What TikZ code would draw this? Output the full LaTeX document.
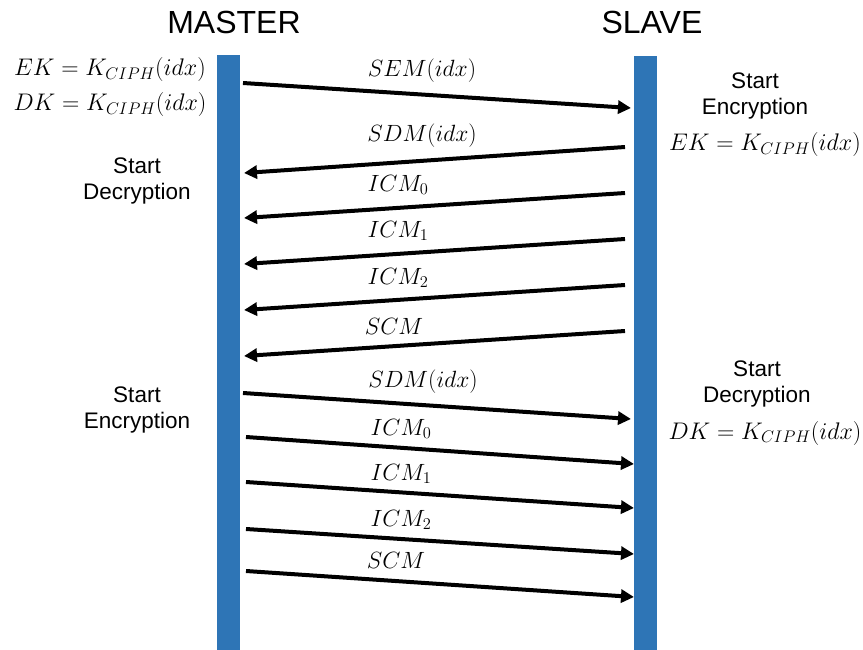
\RequirePackage{fix-cm}
\documentclass[tikz,border=0pt]{standalone}
\usepackage{fontspec}
\setmainfont{Liberation Sans}
\usetikzlibrary{arrows.meta}
\definecolor{lane}{HTML}{2E75B6}
\begin{document}
\begin{tikzpicture}[x=1pt,y=-1pt,
  lanebar/.style={fill=lane,draw=none,minimum width=23pt,inner sep=0pt,anchor=north},
  head/.style={font=\fontsize{32}{38}\selectfont},
  note/.style={font=\fontsize{22.5}{26}\selectfont,align=center},
  eqn/.style={font=\fontsize{24}{28}\selectfont},
  msg/.style={line width=4pt,-{Triangle[length=13pt,width=13pt]}},
  lbl/.style={font=\fontsize{23.5}{28}\selectfont,inner sep=0pt}]
\useasboundingbox (0,0) rectangle (863,650);

% lifelines
\node[lanebar,minimum height=595pt] (mbar) at (228.5,55) {};
\node[lanebar,minimum height=594pt] (sbar) at (645.5,56) {};
\node[head] (mhead) at (234,22) {MASTER};
\node[head] (shead) at (652,22) {SLAVE};

% notes beside the master
\node[eqn] (mek) at (110,70) {$EK = K_{CIPH}(idx)$};
\node[eqn] (mdk) at (110,105) {$DK = K_{CIPH}(idx)$};
\node[note] (mdec) at (137,181) {Start\\Decryption};
\node[note] (menc) at (137,410) {Start\\Encryption};

% notes beside the slave
\node[note] (senc) at (755,96) {Start\\Encryption};
\node[eqn] (sek) at (765,145) {$EK = K_{CIPH}(idx)$};
\node[note] (sdec) at (757,384) {Start\\Decryption};
\node[eqn] (sdk) at (765,433) {$DK = K_{CIPH}(idx)$};

% message end points
\coordinate (a1) at (243,83);  \coordinate (b1) at (631,108);
\coordinate (a2) at (625,147); \coordinate (b2) at (244,173);
\coordinate (a3) at (625,193); \coordinate (b3) at (244,218);
\coordinate (a4) at (625,239); \coordinate (b4) at (244,264);
\coordinate (a5) at (625,285); \coordinate (b5) at (244,310);
\coordinate (a6) at (625,331); \coordinate (b6) at (244,356);
\coordinate (a7) at (243,393); \coordinate (b7) at (631,419);
\coordinate (a8) at (246,437); \coordinate (b8) at (634,464);
\coordinate (a9) at (246,482); \coordinate (b9) at (634,508);
\coordinate (a10) at (246,529); \coordinate (b10) at (634,554);
\coordinate (a11) at (246,571); \coordinate (b11) at (634,597);

% messages
\draw[msg] (a1) -- (b1);
\draw[msg] (a2) -- (b2);
\draw[msg] (a3) -- (b3);
\draw[msg] (a4) -- (b4);
\draw[msg] (a5) -- (b5);
\draw[msg] (a6) -- (b6);
\draw[msg] (a7) -- (b7);
\draw[msg] (a8) -- (b8);
\draw[msg] (a9) -- (b9);
\draw[msg] (a10) -- (b10);
\draw[msg] (a11) -- (b11);

% message labels
\node[lbl] (l1) at (422,71) {$SEM(idx)$};
\node[lbl] (l2) at (422,136) {$SDM(idx)$};
\node[lbl] (l3) at (398,185) {$ICM_0$};
\node[lbl] (l4) at (398,231) {$ICM_1$};
\node[lbl] (l5) at (398,278) {$ICM_2$};
\node[lbl] (l6) at (394,326) {$SCM$};
\node[lbl] (l7) at (423,382) {$SDM(idx)$};
\node[lbl] (l8) at (401,429) {$ICM_0$};
\node[lbl] (l9) at (401,474) {$ICM_1$};
\node[lbl] (l10) at (401,520) {$ICM_2$};
\node[lbl] (l11) at (396,560) {$SCM$};
\end{tikzpicture}
\end{document}
